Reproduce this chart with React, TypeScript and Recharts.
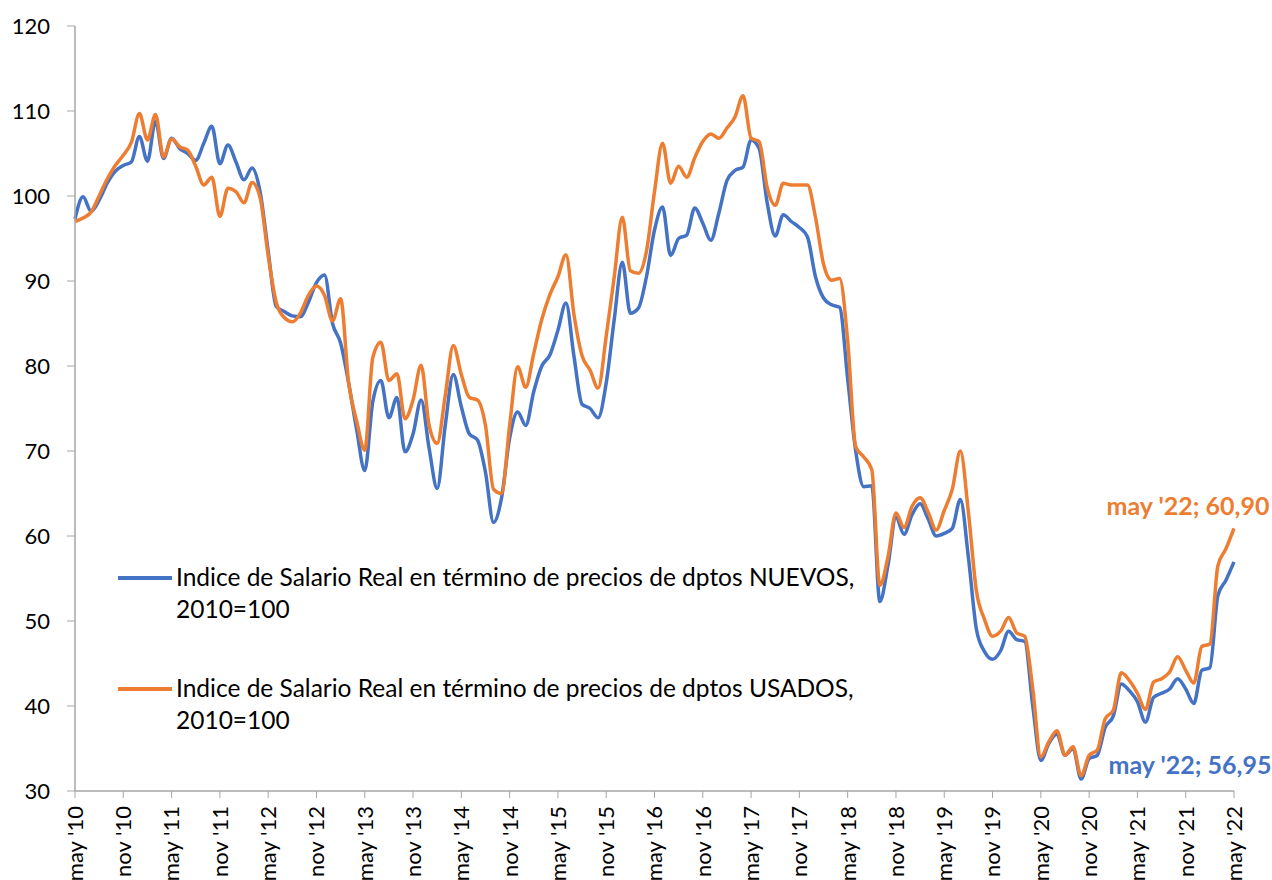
import React from 'react';
import { LineChart, Line, XAxis, YAxis, Legend } from 'recharts';

// monthly series, may 2010 .. may 2022 (145 points)
const monthNames = ['ene', 'feb', 'mar', 'abr', 'may', 'jun', 'jul', 'ago', 'sep', 'oct', 'nov', 'dic'];

const nuevos = [
  97.3, 99.9, 98.2, 99.5, 101.5, 102.9, 103.6, 104.0, 107.0, 104.1, 108.8, 104.4,
  106.8, 105.6, 105.0, 104.2, 106.2, 108.2, 103.8, 106.0, 104.0, 101.9, 103.3, 100.5,
  93.5, 87.0, 86.4, 85.9, 85.8, 87.5, 89.8, 90.7, 85.0, 82.7, 78.0, 72.5,
  67.7, 75.8, 78.3, 73.9, 76.3, 69.9, 72.0, 76.0, 70.3, 65.6, 73.0, 79.0,
  75.2, 72.0, 71.3, 67.5, 61.6, 64.5, 71.5, 74.6, 73.0, 77.0, 80.0, 81.3,
  84.2, 87.4, 81.1, 75.5, 75.0, 73.9, 78.0, 85.5, 92.2, 86.2, 86.8, 90.5,
  96.0, 98.7, 93.0, 95.0, 95.4, 98.6, 96.8, 94.8, 98.0, 101.8, 103.0, 103.4,
  106.6, 105.6, 99.2, 95.3, 97.8, 97.0, 96.3, 95.2, 90.5, 88.0, 87.2, 86.9,
  78.5, 70.0, 65.8, 65.9, 52.3, 56.5, 62.2, 60.2, 62.5, 63.8, 62.0, 60.0,
  60.3, 60.9, 64.3, 57.5, 49.0, 46.4, 45.5, 46.5, 48.8, 47.8, 47.6, 40.0,
  33.6, 35.6, 36.7, 34.2, 35.0, 31.4, 33.8, 34.2, 37.5, 38.8, 42.6, 41.8,
  40.5, 38.1, 41.0, 41.5, 42.0, 43.2, 42.0, 40.3, 44.2, 44.5, 53.0, 54.8,
  56.95,
];

const usados = [
  97.0, 97.4, 98.1, 100.0, 102.0, 103.6, 104.8, 106.3, 109.7, 106.6, 109.6, 104.6,
  106.7, 105.8, 105.4, 103.5, 101.3, 102.2, 97.6, 100.9, 100.5, 99.2, 101.6, 99.8,
  93.0, 87.5, 85.7, 85.2, 86.2, 88.3, 89.4, 88.3, 85.3, 87.9, 78.0, 73.5,
  70.1, 81.0, 82.8, 78.3, 79.1, 73.8, 76.0, 80.1, 73.0, 70.9, 76.5, 82.4,
  79.0, 76.3, 76.0, 73.0, 65.5, 65.0, 73.0, 79.9, 77.5, 81.5, 85.5, 88.4,
  90.5, 93.1, 86.0, 81.2, 79.5, 77.4, 83.5, 90.5, 97.5, 91.2, 90.9, 93.5,
  100.5, 106.2, 101.5, 103.5, 102.2, 104.5, 106.4, 107.3, 106.8, 108.0, 109.3, 111.8,
  106.8, 106.4, 101.0, 98.9, 101.5, 101.3, 101.3, 101.3, 97.5, 92.0, 90.1, 90.3,
  83.0, 70.5, 69.3, 67.8, 54.2, 57.5, 62.7, 61.0, 63.5, 64.5, 62.8, 60.7,
  63.0, 65.5, 70.0, 62.8, 53.5, 50.2, 48.2, 48.8, 50.4, 48.6, 48.2, 42.0,
  34.0, 35.8, 37.1, 34.2, 35.2, 31.8, 34.2, 34.8, 38.5, 39.5, 43.9, 43.0,
  41.5, 39.6, 42.8, 43.2, 44.0, 45.8, 44.2, 42.7, 47.0, 47.3, 56.5, 58.5,
  60.9,
];

const yTicks = [30, 40, 50, 60, 70, 80, 90, 100, 110, 120];

const labelNuevos = 'Indice de Salario Real en término de precios de dptos NUEVOS,';
const labelUsados = 'Indice de Salario Real en término de precios de dptos USADOS,';
const labelBase = '2010=100';

const BLUE = '#4472C4';
const ORANGE = '#ED7D31';
const FONT = 'Lato, "Open Sans", sans-serif';

// build month labels like "may '10"
const categories: string[] = [];
for (let k = 0; k < nuevos.length; k++) {
  const m = (4 + k) % 12;
  const yr = 10 + Math.floor((4 + k) / 12);
  categories.push(`${monthNames[m]} '${yr}`);
}

const data = categories.map((c, i) => ({ mes: c, nuevos: nuevos[i], usados: usados[i] }));
const last = data.length - 1;

const fmt = (v: number) => v.toFixed(2).replace('.', ',');

const RotatedTick = ({ x, y, payload }: any) => (
  <text
    x={x}
    y={y}
    transform={`rotate(-90, ${x}, ${y})`}
    textAnchor="end"
    dy="0.36em"
    fontSize={22}
    fontFamily={FONT}
    fill="#000"
  >
    {payload.value}
  </text>
);

const endLabel = (color: string, dx: number, dy: number) => (props: any) => {
  const { x, y, index, value } = props;
  if (index !== last) return null;
  return (
    <text
      x={x + dx}
      y={y + dy}
      textAnchor="middle"
      fill={color}
      fontWeight="bold"
      fontSize={25}
      fontFamily={FONT}
    >
      {`${categories[last]}; ${fmt(value)}`}
    </text>
  );
};

const renderLegend = () => {
  const items = [
    { text: labelNuevos, color: BLUE },
    { text: labelUsados, color: ORANGE },
  ];
  return (
    <div style={{ fontFamily: FONT, fontSize: 24.5, color: '#000', lineHeight: '32px' }}>
      {items.map((it, i) => (
        <div key={i} style={{ display: 'flex', alignItems: 'flex-start', marginBottom: i === 0 ? 47 : 0 }}>
          <div style={{ width: 54, height: 4, background: it.color, marginTop: 15, marginRight: 4 }} />
          <div style={{ whiteSpace: 'nowrap' }}>
            <div>{it.text}</div>
            <div>{labelBase}</div>
          </div>
        </div>
      ))}
    </div>
  );
};

export default function App() {
  return (
    <div style={{ position: 'absolute', left: 0, top: 0, background: '#fff' }}>
      <LineChart
        width={1272}
        height={880}
        data={data}
        margin={{ top: 26, right: 38, bottom: 0, left: 0 }}
      >
        <XAxis
          dataKey="mes"
          interval={5}
          height={89}
          tick={<RotatedTick />}
          tickSize={7}
          tickMargin={8}
          stroke="#A6A6A6"
          axisLine={{ stroke: '#A6A6A6', strokeWidth: 1.5 }}
        />
        <YAxis
          domain={[30, 120]}
          ticks={yTicks}
          width={75}
          tickSize={8}
          tickMargin={17}
          stroke="#A6A6A6"
          axisLine={{ stroke: '#A6A6A6', strokeWidth: 1.5 }}
          tick={{ fontSize: 22, fontFamily: FONT, fill: '#000' }}
        />
        <Legend
          layout="horizontal"
          verticalAlign="middle"
          align="center"
          content={renderLegend}
          wrapperStyle={{ left: 118, top: 561, width: 800 }}
        />
        <Line
          type="monotone"
          dataKey="nuevos"
          name={labelNuevos}
          stroke={BLUE}
          strokeWidth={3.5}
          dot={false}
          isAnimationActive={false}
          label={endLabel(BLUE, -44, 212)}
        />
        <Line
          type="monotone"
          dataKey="usados"
          name={labelUsados}
          stroke={ORANGE}
          strokeWidth={3.5}
          dot={false}
          isAnimationActive={false}
          label={endLabel(ORANGE, -46, -13)}
        />
      </LineChart>
    </div>
  );
}
